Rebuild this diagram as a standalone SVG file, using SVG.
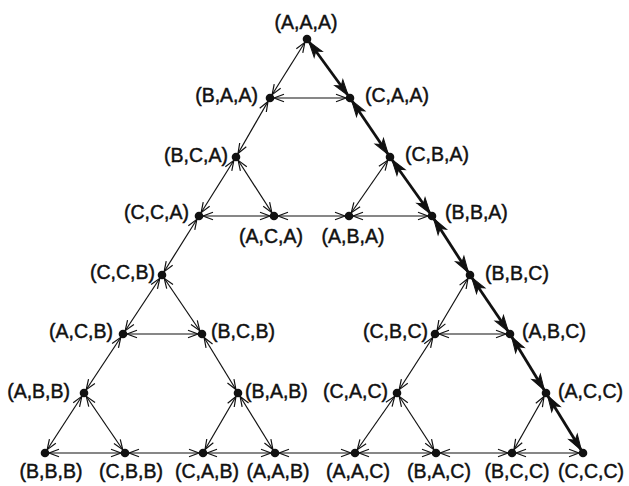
<svg xmlns="http://www.w3.org/2000/svg" width="629" height="486" viewBox="0 0 629 486">
<style>
.e{stroke:#111;stroke-width:1.2;fill:none;marker-start:url(#ta);marker-end:url(#ta)}
.b{stroke:#111;stroke-width:2.8;fill:none;marker-start:url(#ba);marker-end:url(#ba)}
circle{fill:#111}
text{font-family:"Liberation Sans",Arial,sans-serif;font-size:19.5px;fill:#111;stroke:#111;stroke-width:0.45}
.m{text-anchor:middle}.r{text-anchor:end}.l{text-anchor:start}
</style>
<defs>
<marker id="ta" markerUnits="userSpaceOnUse" orient="auto-start-reverse" refX="4" refY="0" markerWidth="1" markerHeight="1" overflow="visible">
<path d="M-10,-3.8 L0,0 L-10,3.8" fill="none" stroke="#111" stroke-width="1.2"/>
</marker>
<marker id="ba" markerUnits="userSpaceOnUse" orient="auto-start-reverse" refX="3" refY="0" markerWidth="1" markerHeight="1" overflow="visible">
<path d="M0,0 L-16,-5 L-12,0 L-16,5 Z" fill="#111" stroke="#111" stroke-width="1"/>
</marker>
</defs>
<g id="connectors">
<line class="e" x1="307" y1="39" x2="270" y2="98"/>
<line class="b" x1="307" y1="39" x2="350" y2="98"/>
<line class="e" x1="270" y1="98" x2="350" y2="98"/>
<line class="e" x1="270" y1="98" x2="236" y2="157"/>
<line class="b" x1="350" y1="98" x2="390" y2="157"/>
<line class="e" x1="236" y1="157" x2="199" y2="216"/>
<line class="e" x1="236" y1="157" x2="274" y2="216"/>
<line class="e" x1="199" y1="216" x2="274" y2="216"/>
<line class="e" x1="274" y1="216" x2="349" y2="216"/>
<line class="e" x1="390" y1="157" x2="349" y2="216"/>
<line class="b" x1="390" y1="157" x2="432" y2="216"/>
<line class="e" x1="349" y1="216" x2="432" y2="216"/>
<line class="e" x1="199" y1="216" x2="162" y2="275"/>
<line class="b" x1="432" y1="216" x2="470" y2="275"/>
<line class="e" x1="162" y1="275" x2="123" y2="334"/>
<line class="e" x1="162" y1="275" x2="202" y2="334"/>
<line class="e" x1="123" y1="334" x2="202" y2="334"/>
<line class="e" x1="123" y1="334" x2="84" y2="393"/>
<line class="e" x1="202" y1="334" x2="238" y2="393"/>
<line class="e" x1="84" y1="393" x2="45" y2="453"/>
<line class="e" x1="84" y1="393" x2="125" y2="453"/>
<line class="e" x1="45" y1="453" x2="125" y2="453"/>
<line class="e" x1="125" y1="453" x2="203" y2="453"/>
<line class="e" x1="238" y1="393" x2="203" y2="453"/>
<line class="e" x1="238" y1="393" x2="275" y2="453"/>
<line class="e" x1="203" y1="453" x2="275" y2="453"/>
<line class="e" x1="275" y1="453" x2="355" y2="453"/>
<line class="e" x1="470" y1="275" x2="435" y2="334"/>
<line class="b" x1="470" y1="275" x2="510" y2="334"/>
<line class="e" x1="435" y1="334" x2="510" y2="334"/>
<line class="e" x1="435" y1="334" x2="397" y2="393"/>
<line class="b" x1="510" y1="334" x2="546" y2="393"/>
<line class="e" x1="397" y1="393" x2="355" y2="453"/>
<line class="e" x1="397" y1="393" x2="436" y2="453"/>
<line class="e" x1="355" y1="453" x2="436" y2="453"/>
<line class="e" x1="436" y1="453" x2="512" y2="453"/>
<line class="e" x1="546" y1="393" x2="512" y2="453"/>
<line class="b" x1="546" y1="393" x2="583" y2="453"/>
<line class="e" x1="512" y1="453" x2="583" y2="453"/>
</g>
<g id="AAA"><circle cx="307" cy="39" r="4.3"/><text class="m" x="306" y="29">(A,A,A)</text></g>
<g id="BAA"><circle cx="270" cy="98" r="4.3"/><text class="r" x="258" y="102">(B,A,A)</text></g>
<g id="CAA"><circle cx="350" cy="98" r="4.3"/><text class="l" x="365" y="102">(C,A,A)</text></g>
<g id="BCA"><circle cx="236" cy="157" r="4.3"/><text class="r" x="228" y="162">(B,C,A)</text></g>
<g id="CBA"><circle cx="390" cy="157" r="4.3"/><text class="l" x="405" y="161">(C,B,A)</text></g>
<g id="CCA"><circle cx="199" cy="216" r="4.3"/><text class="r" x="189" y="219">(C,C,A)</text></g>
<g id="ACA"><circle cx="274" cy="216" r="4.3"/><text class="m" x="271" y="243">(A,C,A)</text></g>
<g id="ABA"><circle cx="349" cy="216" r="4.3"/><text class="m" x="353" y="243">(A,B,A)</text></g>
<g id="BBA"><circle cx="432" cy="216" r="4.3"/><text class="l" x="445" y="219">(B,B,A)</text></g>
<g id="CCB"><circle cx="162" cy="275" r="4.3"/><text class="r" x="155" y="279">(C,C,B)</text></g>
<g id="BBC"><circle cx="470" cy="275" r="4.3"/><text class="l" x="485" y="280">(B,B,C)</text></g>
<g id="ACB"><circle cx="123" cy="334" r="4.3"/><text class="r" x="113" y="338">(A,C,B)</text></g>
<g id="BCB"><circle cx="202" cy="334" r="4.3"/><text class="l" x="211" y="338">(B,C,B)</text></g>
<g id="CBC"><circle cx="435" cy="334" r="4.3"/><text class="r" x="428" y="338">(C,B,C)</text></g>
<g id="ABC"><circle cx="510" cy="334" r="4.3"/><text class="l" x="522" y="338">(A,B,C)</text></g>
<g id="ABB"><circle cx="84" cy="393" r="4.3"/><text class="r" x="70" y="398">(A,B,B)</text></g>
<g id="BAB"><circle cx="238" cy="393" r="4.3"/><text class="l" x="245" y="398">(B,A,B)</text></g>
<g id="CAC"><circle cx="397" cy="393" r="4.3"/><text class="r" x="388" y="398">(C,A,C)</text></g>
<g id="ACC"><circle cx="546" cy="393" r="4.3"/><text class="l" x="558" y="398">(A,C,C)</text></g>
<g id="BBB"><circle cx="45" cy="453" r="4.3"/><text class="m" x="51" y="478">(B,B,B)</text></g>
<g id="CBB"><circle cx="125" cy="453" r="4.3"/><text class="m" x="131" y="478">(C,B,B)</text></g>
<g id="CAB"><circle cx="203" cy="453" r="4.3"/><text class="m" x="207" y="478">(C,A,B)</text></g>
<g id="AAB"><circle cx="275" cy="453" r="4.3"/><text class="m" x="278" y="478">(A,A,B)</text></g>
<g id="AAC"><circle cx="355" cy="453" r="4.3"/><text class="m" x="358" y="478">(A,A,C)</text></g>
<g id="BAC"><circle cx="436" cy="453" r="4.3"/><text class="m" x="439" y="478">(B,A,C)</text></g>
<g id="BCC"><circle cx="512" cy="453" r="4.3"/><text class="m" x="517" y="478">(B,C,C)</text></g>
<g id="CCC"><circle cx="583" cy="453" r="4.3"/><text class="m" x="591" y="478">(C,C,C)</text></g>
</svg>
